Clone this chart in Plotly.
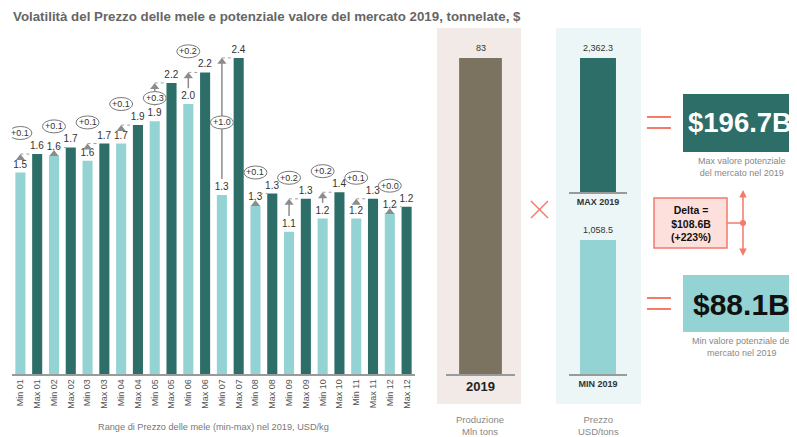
import plotly.graph_objects as go

W, H = 797, 437
# the page body adds an 8px margin; work in window pixels and shift back
OX, OY = 8, 8

# ---- data ----
months = ["01", "02", "03", "04", "05", "06", "07", "08", "09", "10", "11", "12"]
min_price = [1.53, 1.66, 1.62, 1.75, 1.92, 2.05, 1.36, 1.28, 1.08, 1.18, 1.18, 1.22]
max_price = [1.67, 1.72, 1.75, 1.89, 2.21, 2.29, 2.40, 1.37, 1.33, 1.38, 1.33, 1.27]
min_labels = ["1.5", "1.6", "1.6", "1.7", "1.9", "2.0", "1.3", "1.3", "1.1", "1.2", "1.2", "1.2"]
max_labels = ["1.6", "1.7", "1.7", "1.9", "2.2", "2.2", "2.4", "1.3", "1.3", "1.4", "1.3", "1.2"]
delta_labels = ["+0.1", "+0.1", "+0.1", "+0.1", "+0.3", "+0.2", "+1.0", "+0.1", "+0.2", "+0.2", "+0.1", "+0.0"]

production_2019 = 83          # Mln tons
price_max_2019 = 2362.3       # USD/tons
price_min_2019 = 1058.5       # USD/tons
max_market_value = "$196.7B"
min_market_value = "$88.1B"
delta_text = "Delta =<br>$108.6B<br>(+223%)"

# ---- colours ----
LIGHT = "#94d3d3"
DARK = "#2d6e68"
BROWN = "#7b735f"
RED = "#f47a6c"
GREY = "#8c8c8c"
FONT = "Liberation Sans, Arial, sans-serif"


def px(p):
    return (p - OX) / W


def py(p):
    return 1 - (p - OY) / H


def note(x, y, text, size, color, **kw):
    d = dict(x=px(x), y=py(y), xref="paper", yref="paper", text=text,
             showarrow=False, xanchor="center", yanchor="middle",
             font=dict(size=size, color=color, family=FONT))
    d.update(kw)
    return d


fig = go.Figure()

# main chart: min/max price per month
x_min = [2 * i for i in range(len(months))]
x_max = [2 * i + 1 for i in range(len(months))]
tick_text = []
for m in months:
    tick_text += ["Min " + m, "Max " + m]

for xs, ys, labels, col in [(x_min, min_price, min_labels, LIGHT),
                            (x_max, max_price, max_labels, DARK)]:
    fig.add_trace(go.Bar(
        x=xs, y=ys, width=0.6, marker_color=col, marker_line_width=0,
        text=labels, textposition="outside", constraintext="none",
        cliponaxis=False, textfont=dict(size=10, color="#333", family=FONT),
        xaxis="x", yaxis="y", hoverinfo="skip"))

# arrows from min to max level, dotted connector to the max bar
shaft_x, shaft_y, dot_x, dot_y, tri_y = [], [], [], [], []
for i, (lo, hi) in enumerate(zip(min_price, max_price)):
    tail = lo + 0.12
    if hi - lo < 0.1:
        tri_y.append(lo + 0.01)
    else:
        tri_y.append(hi - 0.03)
        if hi - tail > 0.04:
            shaft_x += [2 * i, 2 * i, None]
            shaft_y += [tail, hi - 0.03, None]
    dot_x += [2 * i + (0.25 if hi - lo < 0.1 else 0), 2 * i + 1 - 0.3, None]
    dot_y += [hi, hi, None]

fig.add_trace(go.Scatter(x=shaft_x, y=shaft_y, mode="lines",
                         line=dict(color=GREY, width=1.5), cliponaxis=False,
                         xaxis="x", yaxis="y", hoverinfo="skip"))
fig.add_trace(go.Scatter(x=dot_x, y=dot_y, mode="lines",
                         line=dict(color="#a0a0a0", width=1, dash="dot"),
                         cliponaxis=False, xaxis="x", yaxis="y", hoverinfo="skip"))
fig.add_trace(go.Scatter(x=x_min, y=tri_y, mode="markers",
                         marker=dict(symbol="triangle-up", size=8, color=GREY),
                         cliponaxis=False, xaxis="x", yaxis="y", hoverinfo="skip"))

# delta ovals
shapes = []
annotations = []
for i, (lo, hi, lab) in enumerate(zip(min_price, max_price, delta_labels)):
    if hi - lo >= 0.28:
        oy = (lo + hi) / 2 + 0.03
    else:
        oy = hi + 0.16
    shapes.append(dict(type="circle", xref="x", yref="y", xsizemode="pixel",
                       ysizemode="pixel", xanchor=2 * i, yanchor=oy,
                       x0=-11.5, x1=11.5, y0=-6.5, y1=6.5,
                       fillcolor="white", line=dict(color="#777", width=1),
                       layer="above"))
    annotations.append(dict(x=2 * i, y=oy, xref="x", yref="y", text=lab,
                            showarrow=False, xanchor="center", yanchor="middle",
                            font=dict(size=9, color="#333", family=FONT)))

# production bar
fig.add_trace(go.Bar(x=[0], y=[production_2019], width=0.62, marker_color=BROWN,
                     marker_line_width=0, xaxis="x2", yaxis="y2", hoverinfo="skip"))
# price bars
fig.add_trace(go.Bar(x=[0], y=[price_max_2019], width=0.62, marker_color=DARK,
                     marker_line_width=0, xaxis="x3", yaxis="y3", hoverinfo="skip"))
fig.add_trace(go.Bar(x=[0], y=[price_min_2019], width=0.62, marker_color=LIGHT,
                     marker_line_width=0, xaxis="x4", yaxis="y4", hoverinfo="skip"))

for ax, val, txt in [("2", production_2019, f"{production_2019}"),
                     ("3", price_max_2019, f"{price_max_2019:,.1f}"),
                     ("4", price_min_2019, f"{price_min_2019:,.1f}")]:
    annotations.append(dict(x=0, y=val, xref="x" + ax, yref="y" + ax, text=txt,
                            showarrow=False, xanchor="center", yanchor="bottom", yshift=3,
                            font=dict(size=9, color="#333", family=FONT)))

# panel backgrounds
shapes.append(dict(type="rect", xref="paper", yref="paper", x0=px(437), x1=px(521),
                   y0=py(404), y1=py(28), fillcolor="#f1eae6", line_width=0, layer="below"))
shapes.append(dict(type="rect", xref="paper", yref="paper", x0=px(556), x1=px(641),
                   y0=py(404), y1=py(28), fillcolor="#edf6f6", line_width=0, layer="below"))

# multiply sign
shapes.append(dict(type="line", xref="paper", yref="paper", x0=px(531), x1=px(548),
                   y0=py(201), y1=py(218), line=dict(color=RED, width=1.5)))
shapes.append(dict(type="line", xref="paper", yref="paper", x0=px(531), x1=px(548),
                   y0=py(218), y1=py(201), line=dict(color=RED, width=1.5)))
# equal signs
for yy in [117, 128, 298, 309]:
    shapes.append(dict(type="line", xref="paper", yref="paper", x0=px(647), x1=px(671),
                       y0=py(yy), y1=py(yy), line=dict(color=RED, width=2)))

# result boxes
shapes.append(dict(type="rect", xref="paper", yref="paper", x0=px(683), x1=px(800),
                   y0=py(152), y1=py(94), fillcolor=DARK, line_width=0))
shapes.append(dict(type="rect", xref="paper", yref="paper", x0=px(683), x1=px(800),
                   y0=py(332), y1=py(275), fillcolor=LIGHT, line_width=0))
annotations.append(note(739.5, 123, "<b>" + max_market_value + "</b>", 27.5, "white"))
annotations.append(note(741, 304, "<b>" + min_market_value + "</b>", 30, "#111"))
annotations.append(note(742, 167, "Max valore potenziale<br>del mercato nel 2019", 9, "#888"))
annotations.append(note(742, 347, "Min valore potenziale del<br>mercato nel 2019", 9, "#888"))

# delta box and bracket
shapes.append(dict(type="rect", xref="paper", yref="paper", x0=px(654), x1=px(727),
                   y0=py(248), y1=py(198), fillcolor="#fde0dc",
                   line=dict(color=RED, width=1.5)))
annotations.append(note(690.5, 223, "<b>" + delta_text + "</b>", 10.5, "#111"))
shapes.append(dict(type="line", xref="paper", yref="paper", x0=px(727), x1=px(743),
                   y0=py(223), y1=py(223), line=dict(color=RED, width=1.5)))
shapes.append(dict(type="circle", xref="paper", yref="paper", x0=px(740), x1=px(746),
                   y0=py(226), y1=py(220), fillcolor=RED, line_width=0))
for head, off in [(190, 33), (256, -33)]:
    annotations.append(dict(x=px(743), y=py(head), xref="paper", yref="paper",
                            ax=0, ay=off, text="", showarrow=True, arrowhead=2,
                            arrowsize=1, arrowwidth=1.5, arrowcolor=RED))

# titles and captions
annotations.append(note(11, 16, "<b>Volatilità del Prezzo delle mele e potenziale valore del mercato 2019, tonnelate, $</b>",
                        13.3, "#666", xanchor="left"))
annotations.append(note(213, 427, "Range di Prezzo delle mele (min-max) nel 2019, USD/kg", 9.2, "#777"))
annotations.append(note(480, 425, "Produzione<br>Mln tons", 9.5, "#888"))
annotations.append(note(598, 425, "Prezzo<br>USD/tons", 9.5, "#888"))

hidden_y = dict(visible=False, fixedrange=True, automargin=False)
panel_x = dict(range=[-0.5, 0.5], showline=True, linecolor="#9a9a9a", linewidth=1.5,
               ticks="", showgrid=False, zeroline=False, tickvals=[0], automargin=False)

fig.update_layout(
    width=W, height=H, margin=dict(l=0, r=0, t=0, b=0, autoexpand=False),
    paper_bgcolor="white", plot_bgcolor="rgba(0,0,0,0)",
    showlegend=False, barmode="overlay",
    font=dict(family=FONT),
    xaxis=dict(domain=[px(12), px(415)], range=[-0.5, 23.5], tickvals=list(range(24)),
               ticktext=tick_text, tickangle=-90, showline=True, linecolor="#9a9a9a",
               linewidth=1.5, ticks="", showgrid=False, zeroline=False, automargin=False,
               tickfont=dict(size=9, color="#555")),
    yaxis=dict(domain=[py(374), py(30)], range=[0, 344 / 131.7], **hidden_y),
    xaxis2=dict(domain=[px(446), px(515)], anchor="y2", ticktext=["<b>2019</b>"],
                tickfont=dict(size=13, color="#222"), **panel_x),
    yaxis2=dict(domain=[py(374), py(58)], range=[0, production_2019], anchor="x2", **hidden_y),
    xaxis3=dict(domain=[px(569), px(627)], anchor="y3", ticktext=["<b>MAX 2019</b>"],
                tickfont=dict(size=9, color="#333"), **panel_x),
    yaxis3=dict(domain=[py(192), py(58)], range=[0, price_max_2019], anchor="x3", **hidden_y),
    xaxis4=dict(domain=[px(569), px(627)], anchor="y4", ticktext=["<b>MIN 2019</b>"],
                tickfont=dict(size=9, color="#333"), **panel_x),
    yaxis4=dict(domain=[py(374), py(240)], range=[0, price_min_2019], anchor="x4", **hidden_y),
    shapes=shapes,
    annotations=annotations,
)

fig.write_html("out.html")
